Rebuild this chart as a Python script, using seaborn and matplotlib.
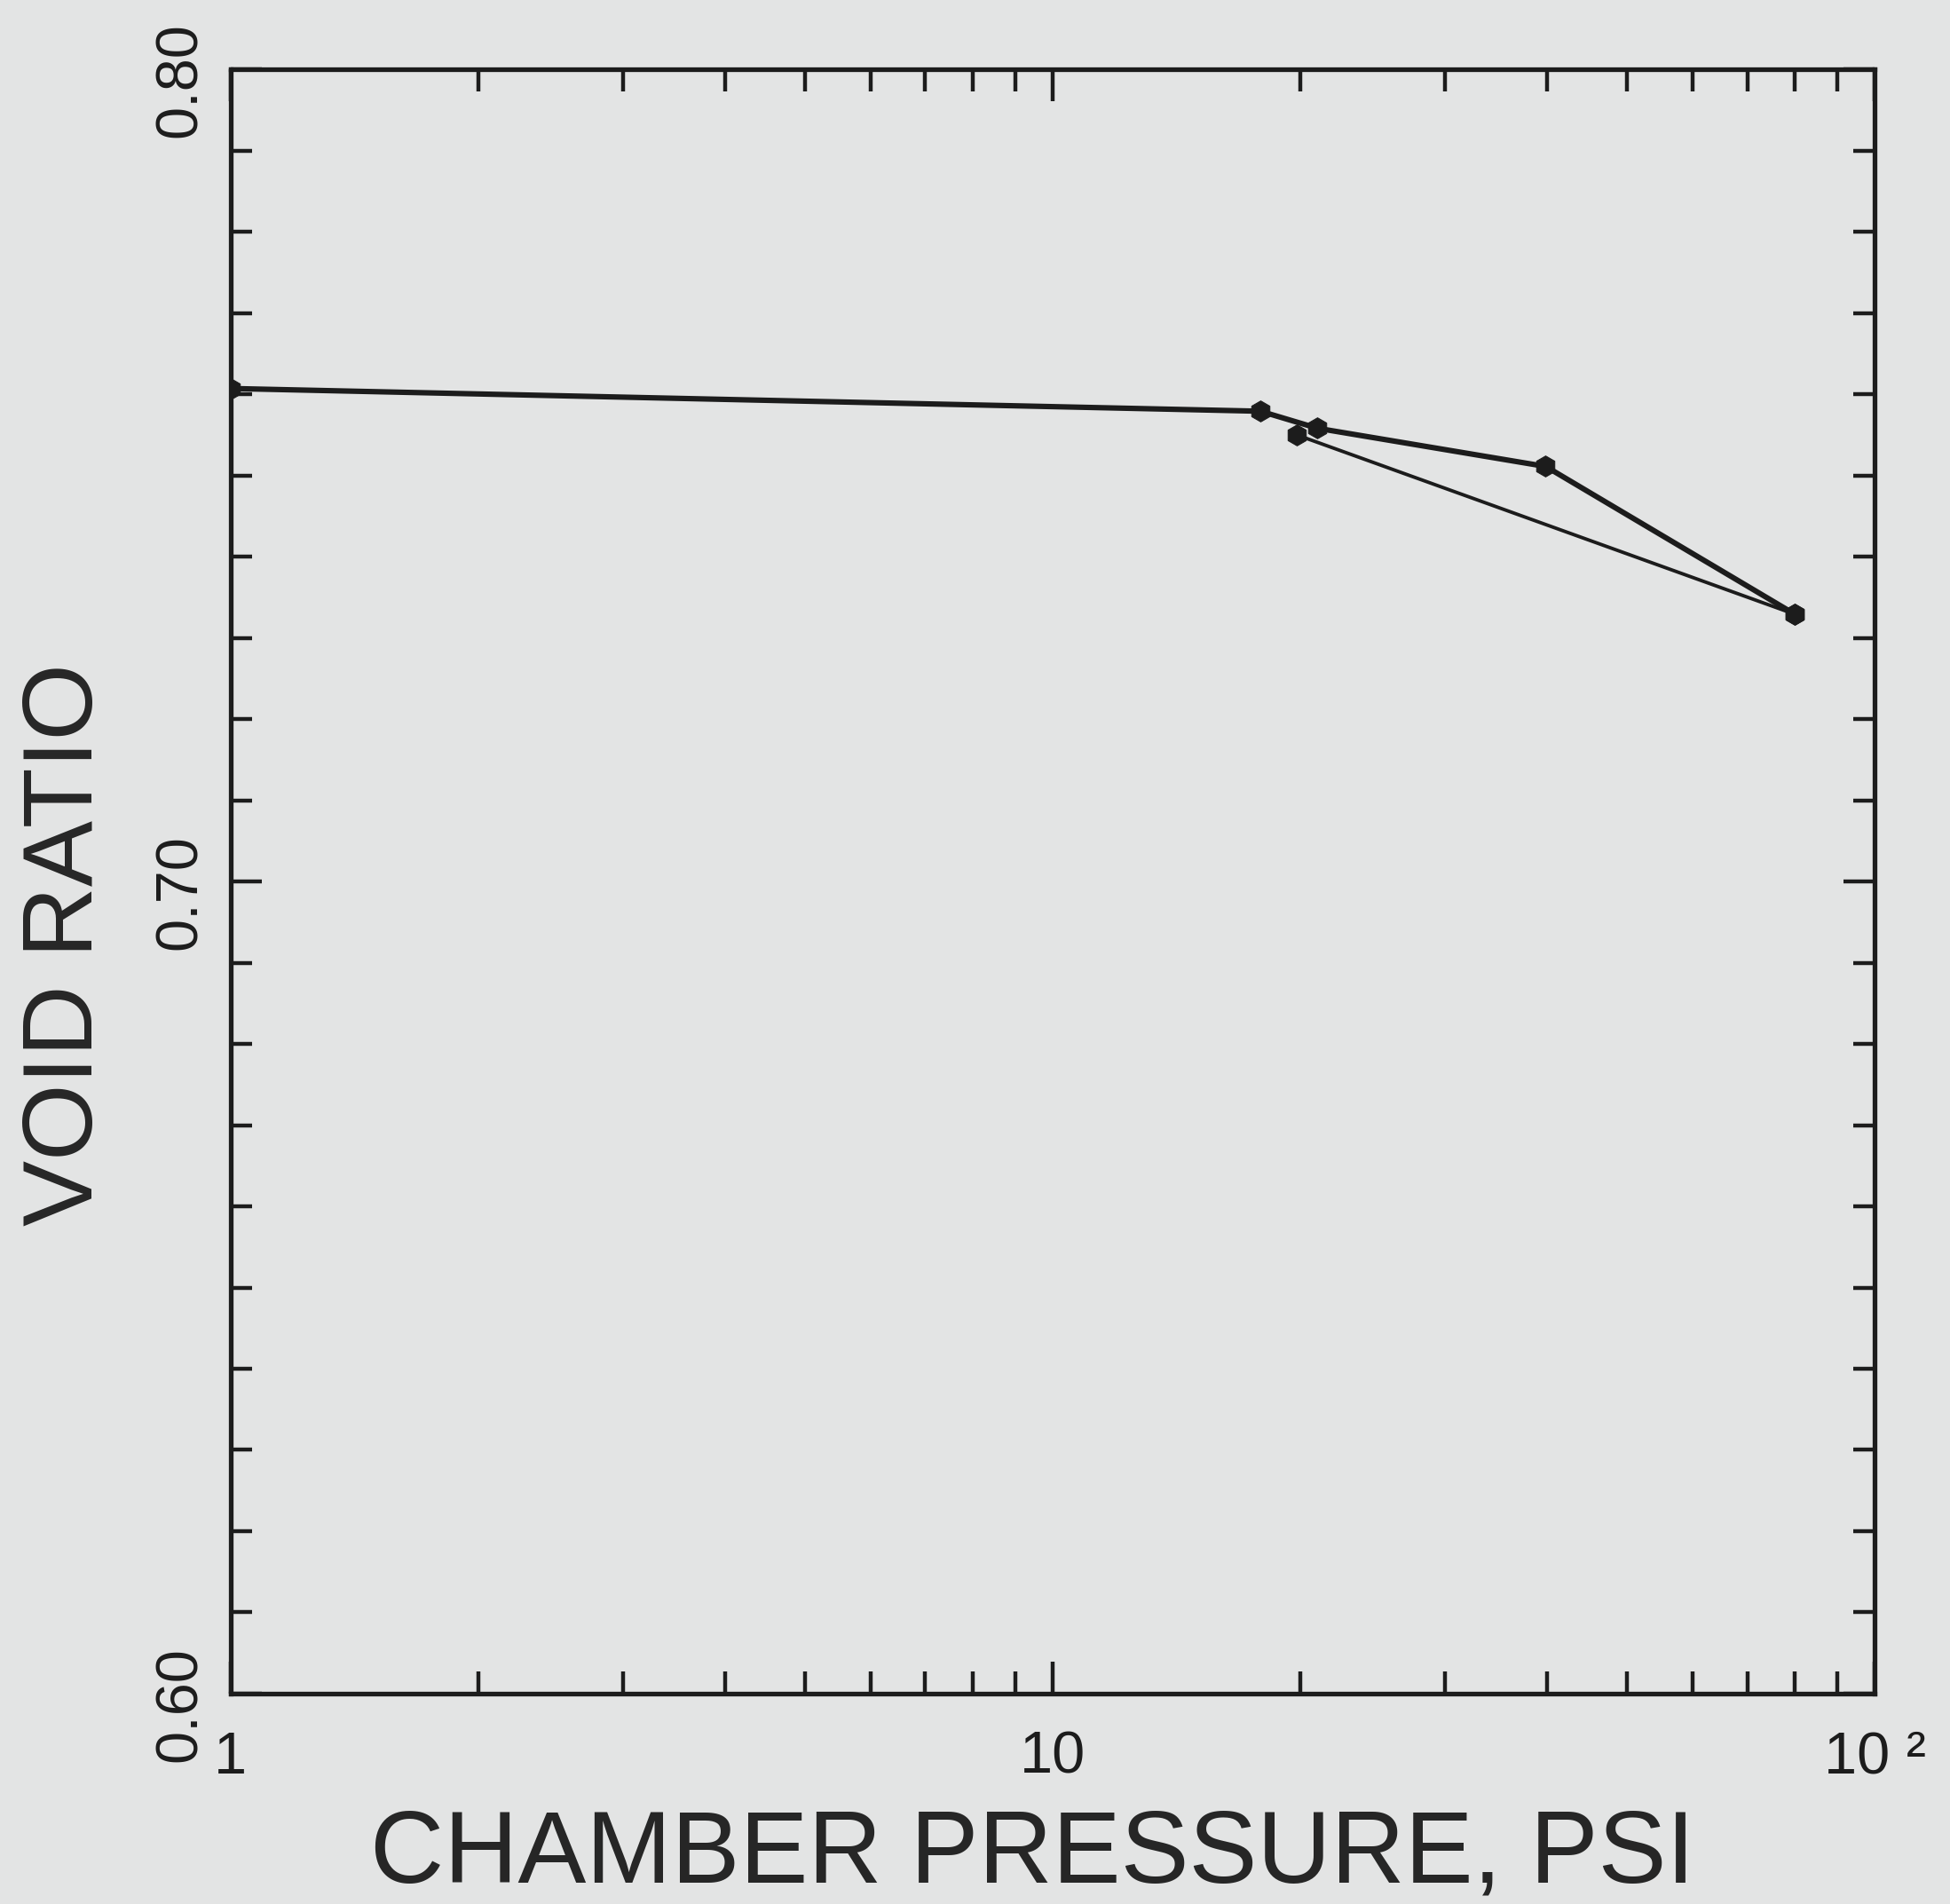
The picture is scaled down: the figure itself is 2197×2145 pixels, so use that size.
import matplotlib
matplotlib.use("Agg")
import matplotlib.pyplot as plt
import matplotlib.transforms as mtransforms
from matplotlib.ticker import FixedLocator, LogLocator, NullFormatter, MultipleLocator
import pandas as pd
import seaborn as sns

# Chamber pressure (psi) and void ratio, loading then unloading
load_pressure = [1.0, 17.9, 21.0, 39.8, 80.0]
load_void = [0.7607, 0.7579, 0.7558, 0.7511, 0.7329]
unload_pressure = [80.0, 19.8]
unload_void = [0.7329, 0.7550]

x_tick_values = [1, 10, 100]
x_tick_labels = ["1", "10", "10 ²"]
y_tick_values = [0.60, 0.70, 0.80]
y_tick_labels = ["0.60", "0.70", "0.80"]

paper = "#e3e4e4"
ink = "#1c1c1c"

sns.set_theme(style="ticks")
plt.rcParams["font.family"] = ["Liberation Sans", "DejaVu Sans"]
plt.rcParams["axes.edgecolor"] = ink
plt.rcParams["text.color"] = ink
plt.rcParams["xtick.color"] = ink
plt.rcParams["ytick.color"] = ink

load_df = pd.DataFrame({"pressure": load_pressure, "void": load_void})
unload_df = pd.DataFrame({"pressure": unload_pressure, "void": unload_void})

fig = plt.figure(figsize=(21.97, 21.45), dpi=100, facecolor=paper)
ax = fig.add_axes([0.1183, 0.1105, 0.8430, 0.8531])
ax.set_facecolor(paper)

sns.lineplot(data=load_df, x="pressure", y="void", sort=False, ax=ax,
             color=ink, linewidth=4.4, marker="h", markersize=17,
             markeredgecolor=ink, markerfacecolor=ink, estimator=None)
sns.lineplot(data=unload_df, x="pressure", y="void", sort=False, ax=ax,
             color=ink, linewidth=2.8, marker="h", markersize=17,
             markeredgecolor=ink, markerfacecolor=ink, estimator=None)

ax.set_xscale("log")
ax.set_xlim(1, 100)
ax.set_ylim(0.60, 0.80)

for s in ax.spines.values():
    s.set_linewidth(3.8)
    s.set_color(ink)

# x axis: decades labelled, log minor ticks
ax.xaxis.set_major_locator(FixedLocator(x_tick_values))
ax.set_xticklabels(x_tick_labels)
ax.xaxis.set_minor_locator(LogLocator(base=10, subs=range(2, 10)))
ax.xaxis.set_minor_formatter(NullFormatter())

# y axis: labelled every 0.10, ticks every 0.01
ax.yaxis.set_major_locator(FixedLocator(y_tick_values))
ax.set_yticklabels(y_tick_labels)
ax.yaxis.set_minor_locator(MultipleLocator(0.01))

ax.tick_params(axis="both", which="both", direction="in",
               top=True, right=True, width=3.2, colors=ink)
ax.tick_params(axis="x", which="major", length=26, pad=30, labelsize=48)
ax.tick_params(axis="x", which="minor", length=18)
ax.tick_params(axis="y", which="major", length=25, pad=18, labelsize=48)
ax.tick_params(axis="y", which="minor", length=17)
shift_down = mtransforms.ScaledTranslation(0, -0.12, fig.dpi_scale_trans)
for lab in ax.get_yticklabels():
    lab.set_rotation(90)
    lab.set_va("center")
    lab.set_transform(lab.get_transform() + shift_down)

ax.set_xlabel("CHAMBER PRESSURE, PSI", fontsize=83)
ax.set_ylabel("VOID RATIO", fontsize=80)
ax.xaxis.set_label_coords(0.488, -0.071)
ax.yaxis.set_label_coords(-0.072, 0.461)

fig.savefig("out.png", dpi=100, facecolor=paper)
